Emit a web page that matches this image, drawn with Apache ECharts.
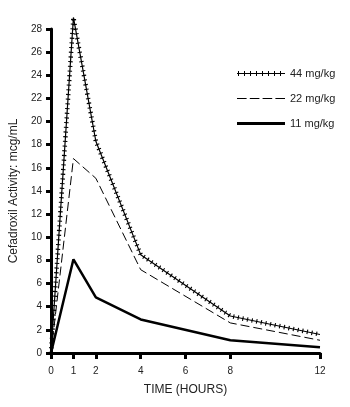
<!DOCTYPE html>
<html><head><meta charset="utf-8">
<script src="https://cdn.jsdelivr.net/npm/echarts@6/dist/echarts.min.js"></script>
<style>html,body{margin:0;padding:0;background:#fff}#c{width:350px;height:407px}</style>
</head><body><div id="c"></div>
<script>
const hours = [0, 1, 2, 4, 8, 12];
const dose44 = [0, 29.0, 18.3, 8.5, 3.2, 1.6];
const dose22 = [0, 16.8, 15.1, 7.2, 2.6, 1.1];
const dose11 = [0, 8.1, 4.8, 2.9, 1.1, 0.5];
const xTicks = [0, 1, 2, 4, 6, 8, 12];
const seriesNames = ['44 mg/kg', '22 mg/kg', '11 mg/kg'];
const xTitle = 'TIME (HOURS)';
const yTitle = 'Cefadroxil Activity: mcg/mL';

const font = '"Liberation Sans Narrow", "Liberation Sans", Arial, sans-serif';
const pts = a => hours.map((h, i) => [h, a[i]]);

// legend icons (filled paths)
let crossPath = 'path://M0,4.5L48,4.5L48,5.5L0,5.5Z';
for (let x = 1; x < 48; x += 6) crossPath += `M${x},2.5L${x+1},2.5L${x+1},7.5L${x},7.5Z`;
let dashPath = 'path://';
for (let x = 0; x < 48; x += 12) dashPath += `M${x},4.5L${Math.min(x+9,48)},4.5L${Math.min(x+9,48)},5.5L${x},5.5Z`;
const solidPath = 'path://M0,3.6L48,3.6L48,6.4L0,6.4Z';

const chart = echarts.init(document.getElementById('c'), null, {renderer: 'canvas'});
chart.setOption({
  animation: false,
  backgroundColor: '#fff',
  grid: {left: 45, right: 30, top: 29, bottom: 54, containLabel: false},
  legend: {
    orient: 'vertical', left: 232, top: 63, itemWidth: 48, itemHeight: 10, itemGap: 14,
    textStyle: {fontFamily: font, fontSize: 11, color: '#222'},
    data: [
      {name: seriesNames[0], icon: crossPath},
      {name: seriesNames[1], icon: dashPath},
      {name: seriesNames[2], icon: solidPath}
    ]
  },
  xAxis: {
    type: 'value', min: 0, max: 12, interval: 1,
    name: xTitle, nameLocation: 'middle', nameGap: 31,
    nameTextStyle: {fontFamily: font, fontSize: 12, color: '#222'},
    axisLine: {lineStyle: {color: '#000', width: 3}},
    axisTick: {show: true, length: 6, lineStyle: {color: '#000', width: 3}, customValues: xTicks},
    axisLabel: {fontFamily: font, fontSize: 10, color: '#222', margin: 13, customValues: xTicks},
    splitLine: {show: false}
  },
  yAxis: {
    type: 'value', min: 0, max: 28, interval: 2,
    name: yTitle, nameLocation: 'middle', nameGap: 31, nameRotate: 90,
    nameTextStyle: {fontFamily: font, fontSize: 12, color: '#222'},
    axisLine: {show: true, lineStyle: {color: '#000', width: 3}},
    axisTick: {show: true, length: 5, lineStyle: {color: '#000', width: 3}},
    axisLabel: {fontFamily: font, fontSize: 10, color: '#222', margin: 9},
    splitLine: {show: false}
  },
  series: [
    {name: seriesNames[0], type: 'line', data: pts(dose44), symbol: 'none', clip: false,
     lineStyle: {color: '#000', width: 1.2}, itemStyle: {color: '#000'}, z: 5},
    {name: seriesNames[0], type: 'line', data: pts(dose44), symbol: 'none', clip: false,
     lineStyle: {color: '#000', width: 4.5, type: [1.1, 3.6]}, itemStyle: {color: '#000'}, z: 5},
    {name: seriesNames[1], type: 'line', data: pts(dose22), symbol: 'none', clip: false,
     lineStyle: {color: '#000', width: 1, type: [9, 4]}, itemStyle: {color: '#000'}},
    {name: seriesNames[2], type: 'line', data: pts(dose11), symbol: 'none', clip: false,
     lineStyle: {color: '#000', width: 2.5}, itemStyle: {color: '#000'}}
  ]
});
</script></body></html>
